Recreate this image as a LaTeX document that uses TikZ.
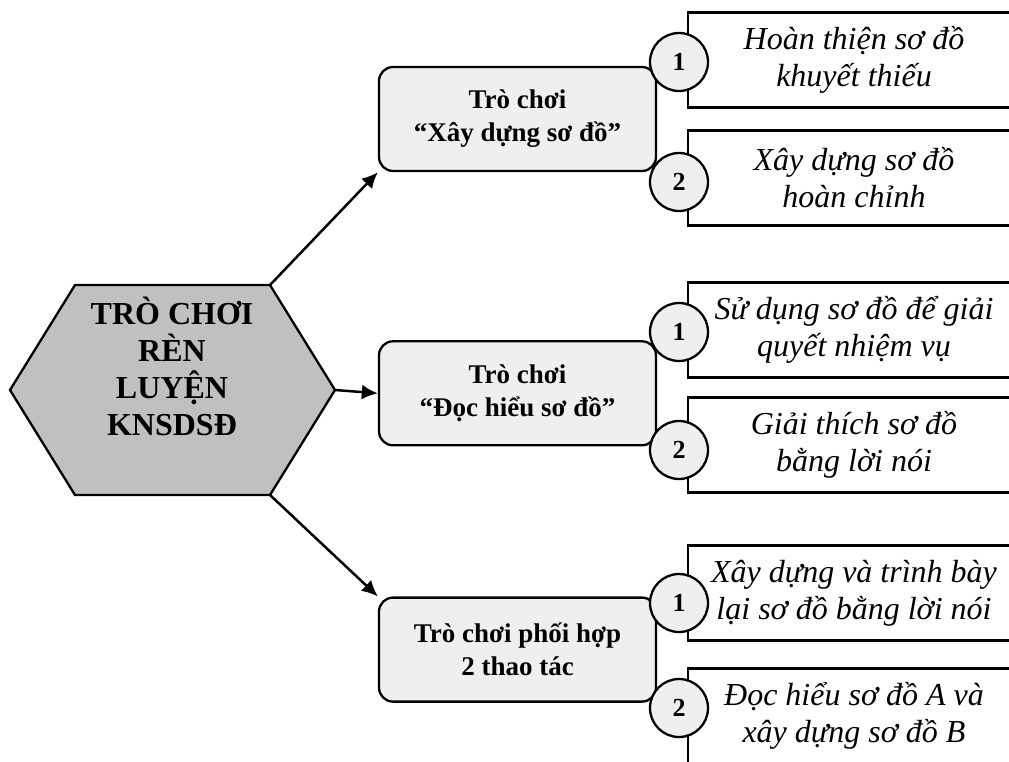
\documentclass[tikz,border=0pt]{standalone}
\usepackage{fontspec}
\setmainfont{Liberation Serif}
\usetikzlibrary{positioning,arrows.meta}
\definecolor{hexfill}{RGB}{192,192,192}
\definecolor{boxfill}{RGB}{239,239,239}
\tikzstyle{game} = [rectangle,rounded corners=14pt,draw,line width=2.3pt,fill=boxfill,align=center,minimum width=277pt,minimum height=104pt,font=\bfseries\fontsize{27}{33}\selectfont]
\tikzstyle{task} = [rectangle,draw,line width=2.3pt,fill=white,align=center,minimum width=332pt,minimum height=95pt,font=\itshape\fontsize{32}{37}\selectfont]
\tikzstyle{num} = [circle,draw,line width=2.3pt,fill=boxfill,minimum size=58pt,inner sep=0pt,font=\bfseries\fontsize{26}{26}\selectfont]
\tikzstyle{line} = [draw,line width=2.5pt,-{Latex[length=16pt,width=15pt]}]

\begin{document}
\begin{tikzpicture}[x=1pt,y=-1pt]
  \useasboundingbox (0,0) rectangle (1009,761);
  \clip (0,0) rectangle (1009,761);
  % hexagon
  \draw[line width=2.3pt,fill=hexfill] (10,390) coordinate (hub-w) -- (75,285) coordinate (hub-nw)
    -- (270,285) coordinate (hub-ne) -- (335,390) coordinate (hub-e)
    -- (270,495) coordinate (hub-se) -- (75,495) coordinate (hub-sw) -- cycle;
  \node[align=center,font=\bfseries\fontsize{32}{37}\selectfont] (hub) at (172,366) {TRÒ CHƠI\\RÈN\\LUYỆN\\KNSDSĐ};
  % games
  \node[game] (build) at (517.5,119) {Trò chơi\\“Xây dựng sơ đồ”};
  \node[game,below=168pt of build] (read) {Trò chơi\\“Đọc hiểu sơ đồ”};
  \node[game,below=150pt of read] (mix) {Trò chơi phối hợp\\2 thao tác};
  \path[line] (hub-ne) -- (build.south west);
  \path[line] (hub-e) -- (read.west);
  \path[line] (hub-se) -- (mix.north west);
  % tasks
  \node[task] (build-a) at (854,60) {Hoàn thiện sơ đồ\\khuyết thiếu};
  \node[task] (build-b) at (854,178) {Xây dựng sơ đồ\\hoàn chỉnh};
  \node[task] (read-a) at (854,330) {Sử dụng sơ đồ để giải\\quyết nhiệm vụ};
  \node[task] (read-b) at (854,445) {Giải thích sơ đồ\\bằng lời nói};
  \node[task] (mix-a) at (854,593) {Xây dựng và trình bày\\lại sơ đồ bằng lời nói};
  \node[task] (mix-b) at (854,716) {Đọc hiểu sơ đồ A và\\xây dựng sơ đồ B};
  % numbers
  \node[num] (build-1) at (679,62) {1};
  \node[num] (build-2) at (679,182) {2};
  \node[num] (read-1) at (679,332) {1};
  \node[num] (read-2) at (679,450) {2};
  \node[num] (mix-1) at (679,603) {1};
  \node[num] (mix-2) at (679,708) {2};
\end{tikzpicture}
\end{document}
